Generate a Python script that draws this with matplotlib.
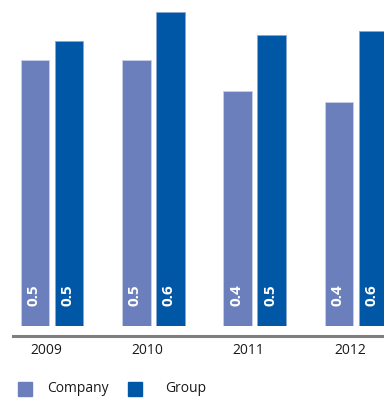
import matplotlib
matplotlib.use("Agg")
import matplotlib.pyplot as plt
import numpy as np
from matplotlib.patches import Rectangle

years = ["2009", "2010", "2011", "2012"]
company = [0.50, 0.50, 0.44, 0.42]
group = [0.535, 0.59, 0.546, 0.553]

company_color = "#6b7fbc"
group_color = "#0057a5"

W, H = 384, 399
fig = plt.figure(figsize=(W / 100, H / 100), dpi=100)
plt.rcParams["font.family"] = ["Open Sans", "DejaVu Sans"]

# plot area: zero line at y=326 px, full width
ax = fig.add_axes([0, (H - 326) / H, 1, 326 / H])
ax.set_xlim(-52 / 101.3, (W - 52) / 101.3)
ax.set_ylim(0, 326 / 533)
ax.axis("off")

x = np.arange(len(years))
bw = 0.281
off = 0.168
ax.bar(x - off, company, bw, color=company_color, edgecolor="#c9d0e8", linewidth=0.6)
ax.bar(x + off, group, bw, color=group_color, edgecolor="#8aa6d0", linewidth=0.6)

for xi, c, g in zip(x, company, group):
    for xp, v in ((xi - off, c), (xi + off, g)):
        ax.text(xp - 0.015, 0.058, f"{v:.1f}", rotation=90, ha="center", va="center",
                color="white", fontsize=11, fontweight="bold")

# baseline rule and year labels
fig.add_artist(plt.Line2D([13 / W, 1], [1 - 336 / H, 1 - 336 / H], color="#7f7f7f",
                          linewidth=2.2, transform=fig.transFigure))
for xi, yr in zip(x, years):
    px = 52 + 101.3 * xi - 6
    fig.text(px / W, 1 - 350 / H, yr, ha="center", va="center", fontsize=10, color="#1a1a1a")

# legend
for sx, col, lbl, tx in ((18, company_color, "Company", 47), (128, group_color, "Group", 165)):
    fig.add_artist(Rectangle((sx / W, 1 - 396 / H), 14 / W, 14 / H, color=col,
                             transform=fig.transFigure))
    fig.text(tx / W, 1 - 389 / H, lbl, ha="left", va="center", fontsize=10, color="#1a1a1a")

fig.savefig("out.png", dpi=100)
